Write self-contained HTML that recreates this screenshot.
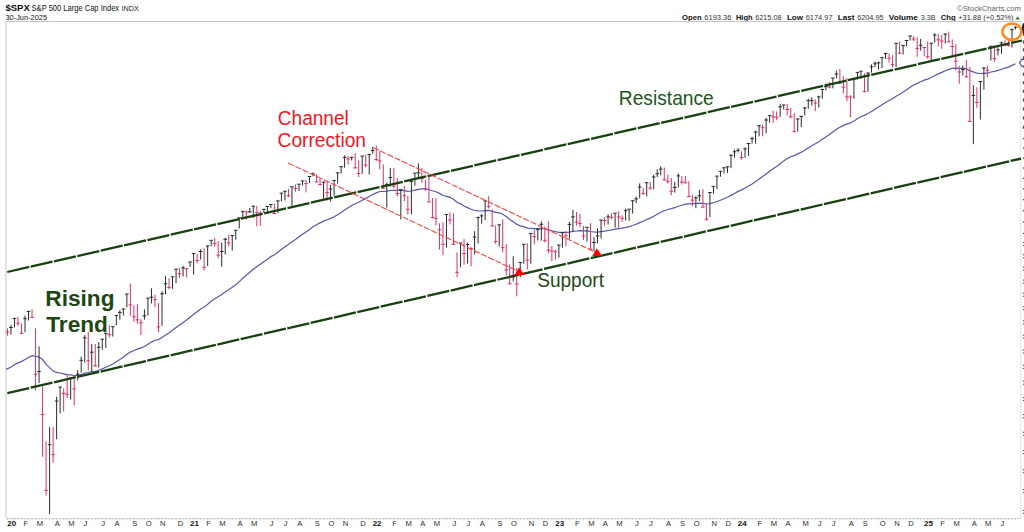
<!DOCTYPE html>
<html><head><meta charset="utf-8"><style>
html,body{margin:0;padding:0;background:#fff;width:1024px;height:532px;overflow:hidden}
svg{position:absolute;left:0;top:0}
text{font-family:"Liberation Sans",sans-serif}
</style></head><body>
<svg width="1024" height="532" viewBox="0 0 1024 532">
<rect x="0" y="0" width="1024" height="532" fill="#fff"/>
<!-- header -->
<text x="5.5" y="11.4" font-size="9.8" font-weight="bold" fill="#0a0a0a" textLength="24.2" lengthAdjust="spacingAndGlyphs">$SPX</text>
<text x="31.6" y="11.2" font-size="8.2" fill="#111" textLength="87.5" lengthAdjust="spacingAndGlyphs">S&amp;P 500 Large Cap Index</text>
<text x="121.6" y="11.2" font-size="7.2" fill="#222" textLength="17.2" lengthAdjust="spacingAndGlyphs">INDX</text>
<text x="5.5" y="19.8" font-size="7.5" fill="#111" textLength="41.5" lengthAdjust="spacingAndGlyphs">30-Jun-2025</text>
<text x="957" y="10.8" font-size="7.7" fill="#666" textLength="64" lengthAdjust="spacingAndGlyphs">&#169;StockCharts.com</text>
<g font-size="7.7" fill="#111">
<text x="682" y="19.6" font-weight="bold" textLength="19.6" lengthAdjust="spacingAndGlyphs">Open</text>
<text x="704.3" y="19.6" fill="#333" textLength="27.2" lengthAdjust="spacingAndGlyphs">6193.36</text>
<text x="735.9" y="19.6" font-weight="bold" textLength="16.7" lengthAdjust="spacingAndGlyphs">High</text>
<text x="755.2" y="19.6" fill="#333" textLength="26.4" lengthAdjust="spacingAndGlyphs">6215.08</text>
<text x="786.9" y="19.6" font-weight="bold" textLength="16.1" lengthAdjust="spacingAndGlyphs">Low</text>
<text x="805.7" y="19.6" fill="#333" textLength="26.9" lengthAdjust="spacingAndGlyphs">6174.97</text>
<text x="837.8" y="19.6" font-weight="bold" textLength="16.6" lengthAdjust="spacingAndGlyphs">Last</text>
<text x="857.2" y="19.6" fill="#333" textLength="26.3" lengthAdjust="spacingAndGlyphs">6204.95</text>
<text x="888.8" y="19.6" font-weight="bold" textLength="29" lengthAdjust="spacingAndGlyphs">Volume</text>
<text x="920.8" y="19.6" fill="#333" textLength="14.6" lengthAdjust="spacingAndGlyphs">3.3B</text>
<text x="940.7" y="19.6" font-weight="bold" textLength="14.9" lengthAdjust="spacingAndGlyphs">Chg</text>
<text x="958.2" y="19.6" fill="#333" textLength="55.4" lengthAdjust="spacingAndGlyphs">+31.88 (+0.52%)</text>
</g>
<path d="M1015.3 19.6l2.3-3l2.3 3z" fill="#2a7a2a"/>
<!-- frame -->
<path d="M6 21.5H1021" stroke="#c4c4c4" stroke-width="1"/>
<path d="M6 21.5V518.5" stroke="#dadada" stroke-width="1.5"/>
<path d="M6 518.5H1021" stroke="#d8d8d8" stroke-width="1"/>
<path d="M1020.7 21.5V518.5" stroke="#d8d8d8" stroke-width="1" stroke-dasharray="2 1"/>
<path d="M7.5 518.5v1.5M11.0 518.5v1.5M14.5 518.5v1.5M18.0 518.5v1.5M21.5 518.5v1.5M25.0 518.5v1.5M28.5 518.5v1.5M32.0 518.5v1.5M35.5 518.5v1.5M39.1 518.5v1.5M42.6 518.5v1.5M46.1 518.5v1.5M49.6 518.5v1.5M53.1 518.5v1.5M56.6 518.5v1.5M60.1 518.5v1.5M63.6 518.5v1.5M67.2 518.5v1.5M70.7 518.5v1.5M74.2 518.5v1.5M77.7 518.5v1.5M81.2 518.5v1.5M84.7 518.5v1.5M88.2 518.5v1.5M91.7 518.5v1.5M95.3 518.5v1.5M98.8 518.5v1.5M102.3 518.5v1.5M105.8 518.5v1.5M109.3 518.5v1.5M112.8 518.5v1.5M116.3 518.5v1.5M119.8 518.5v1.5M123.4 518.5v1.5M126.9 518.5v1.5M130.4 518.5v1.5M133.9 518.5v1.5M137.4 518.5v1.5M140.9 518.5v1.5M144.4 518.5v1.5M147.9 518.5v1.5M151.5 518.5v1.5M155.0 518.5v1.5M158.5 518.5v1.5M162.0 518.5v1.5M165.5 518.5v1.5M169.0 518.5v1.5M172.5 518.5v1.5M176.0 518.5v1.5M179.6 518.5v1.5M183.1 518.5v1.5M186.6 518.5v1.5M190.1 518.5v1.5M193.6 518.5v1.5M197.1 518.5v1.5M200.6 518.5v1.5M204.1 518.5v1.5M207.7 518.5v1.5M211.2 518.5v1.5M214.7 518.5v1.5M218.2 518.5v1.5M221.7 518.5v1.5M225.2 518.5v1.5M228.7 518.5v1.5M232.2 518.5v1.5M235.8 518.5v1.5M239.3 518.5v1.5M242.8 518.5v1.5M246.3 518.5v1.5M249.8 518.5v1.5M253.3 518.5v1.5M256.8 518.5v1.5M260.3 518.5v1.5M263.9 518.5v1.5M267.4 518.5v1.5M270.9 518.5v1.5M274.4 518.5v1.5M277.9 518.5v1.5M281.4 518.5v1.5M284.9 518.5v1.5M288.4 518.5v1.5M292.0 518.5v1.5M295.5 518.5v1.5M299.0 518.5v1.5M302.5 518.5v1.5M306.0 518.5v1.5M309.5 518.5v1.5M313.0 518.5v1.5M316.5 518.5v1.5M320.1 518.5v1.5M323.6 518.5v1.5M327.1 518.5v1.5M330.6 518.5v1.5M334.1 518.5v1.5M337.6 518.5v1.5M341.1 518.5v1.5M344.6 518.5v1.5M348.2 518.5v1.5M351.7 518.5v1.5M355.2 518.5v1.5M358.7 518.5v1.5M362.2 518.5v1.5M365.7 518.5v1.5M369.2 518.5v1.5M372.7 518.5v1.5M376.3 518.5v1.5M379.8 518.5v1.5M383.3 518.5v1.5M386.8 518.5v1.5M390.3 518.5v1.5M393.8 518.5v1.5M397.3 518.5v1.5M400.8 518.5v1.5M404.4 518.5v1.5M407.9 518.5v1.5M411.4 518.5v1.5M414.9 518.5v1.5M418.4 518.5v1.5M421.9 518.5v1.5M425.4 518.5v1.5M428.9 518.5v1.5M432.5 518.5v1.5M436.0 518.5v1.5M439.5 518.5v1.5M443.0 518.5v1.5M446.5 518.5v1.5M450.0 518.5v1.5M453.5 518.5v1.5M457.0 518.5v1.5M460.5 518.5v1.5M464.1 518.5v1.5M467.6 518.5v1.5M471.1 518.5v1.5M474.6 518.5v1.5M478.1 518.5v1.5M481.6 518.5v1.5M485.1 518.5v1.5M488.6 518.5v1.5M492.2 518.5v1.5M495.7 518.5v1.5M499.2 518.5v1.5M502.7 518.5v1.5M506.2 518.5v1.5M509.7 518.5v1.5M513.2 518.5v1.5M516.7 518.5v1.5M520.3 518.5v1.5M523.8 518.5v1.5M527.3 518.5v1.5M530.8 518.5v1.5M534.3 518.5v1.5M537.8 518.5v1.5M541.3 518.5v1.5M544.8 518.5v1.5M548.4 518.5v1.5M551.9 518.5v1.5M555.4 518.5v1.5M558.9 518.5v1.5M562.4 518.5v1.5M565.9 518.5v1.5M569.4 518.5v1.5M572.9 518.5v1.5M576.5 518.5v1.5M580.0 518.5v1.5M583.5 518.5v1.5M587.0 518.5v1.5M590.5 518.5v1.5M594.0 518.5v1.5M597.5 518.5v1.5M601.0 518.5v1.5M604.6 518.5v1.5M608.1 518.5v1.5M611.6 518.5v1.5M615.1 518.5v1.5M618.6 518.5v1.5M622.1 518.5v1.5M625.6 518.5v1.5M629.1 518.5v1.5M632.7 518.5v1.5M636.2 518.5v1.5M639.7 518.5v1.5M643.2 518.5v1.5M646.7 518.5v1.5M650.2 518.5v1.5M653.7 518.5v1.5M657.2 518.5v1.5M660.8 518.5v1.5M664.3 518.5v1.5M667.8 518.5v1.5M671.3 518.5v1.5M674.8 518.5v1.5M678.3 518.5v1.5M681.8 518.5v1.5M685.3 518.5v1.5M688.9 518.5v1.5M692.4 518.5v1.5M695.9 518.5v1.5M699.4 518.5v1.5M702.9 518.5v1.5M706.4 518.5v1.5M709.9 518.5v1.5M713.4 518.5v1.5M717.0 518.5v1.5M720.5 518.5v1.5M724.0 518.5v1.5M727.5 518.5v1.5M731.0 518.5v1.5M734.5 518.5v1.5M738.0 518.5v1.5M741.5 518.5v1.5M745.1 518.5v1.5M748.6 518.5v1.5M752.1 518.5v1.5M755.6 518.5v1.5M759.1 518.5v1.5M762.6 518.5v1.5M766.1 518.5v1.5M769.6 518.5v1.5M773.2 518.5v1.5M776.7 518.5v1.5M780.2 518.5v1.5M783.7 518.5v1.5M787.2 518.5v1.5M790.7 518.5v1.5M794.2 518.5v1.5M797.7 518.5v1.5M801.3 518.5v1.5M804.8 518.5v1.5M808.3 518.5v1.5M811.8 518.5v1.5M815.3 518.5v1.5M818.8 518.5v1.5M822.3 518.5v1.5M825.8 518.5v1.5M829.4 518.5v1.5M832.9 518.5v1.5M836.4 518.5v1.5M839.9 518.5v1.5M843.4 518.5v1.5M846.9 518.5v1.5M850.4 518.5v1.5M853.9 518.5v1.5M857.5 518.5v1.5M861.0 518.5v1.5M864.5 518.5v1.5M868.0 518.5v1.5M871.5 518.5v1.5M875.0 518.5v1.5M878.5 518.5v1.5M882.0 518.5v1.5M885.6 518.5v1.5M889.1 518.5v1.5M892.6 518.5v1.5M896.1 518.5v1.5M899.6 518.5v1.5M903.1 518.5v1.5M906.6 518.5v1.5M910.1 518.5v1.5M913.6 518.5v1.5M917.2 518.5v1.5M920.7 518.5v1.5M924.2 518.5v1.5M927.7 518.5v1.5M931.2 518.5v1.5M934.7 518.5v1.5M938.2 518.5v1.5M941.7 518.5v1.5M945.3 518.5v1.5M948.8 518.5v1.5M952.3 518.5v1.5M955.8 518.5v1.5M959.3 518.5v1.5M962.8 518.5v1.5M966.3 518.5v1.5M969.8 518.5v1.5M973.4 518.5v1.5M976.9 518.5v1.5M980.4 518.5v1.5M983.9 518.5v1.5M987.4 518.5v1.5M990.9 518.5v1.5M994.4 518.5v1.5M997.9 518.5v1.5M1001.5 518.5v1.5M1005.0 518.5v1.5M1008.5 518.5v1.5M1012.0 518.5v1.5M1015.5 518.5v1.5" stroke="#bbb" stroke-width="0.8"/>
<text x="11.8" y="526.2" text-anchor="middle" font-weight="bold" font-size="8" fill="#111">20</text>
<text x="25.8" y="526.2" text-anchor="middle" font-size="7.6" fill="#2a2a2a">F</text>
<text x="39.9" y="526.2" text-anchor="middle" font-size="7.6" fill="#2a2a2a">M</text>
<text x="57.4" y="526.2" text-anchor="middle" font-size="7.6" fill="#2a2a2a">A</text>
<text x="71.5" y="526.2" text-anchor="middle" font-size="7.6" fill="#2a2a2a">M</text>
<text x="85.5" y="526.2" text-anchor="middle" font-size="7.6" fill="#2a2a2a">J</text>
<text x="103.1" y="526.2" text-anchor="middle" font-size="7.6" fill="#2a2a2a">J</text>
<text x="117.1" y="526.2" text-anchor="middle" font-size="7.6" fill="#2a2a2a">A</text>
<text x="134.7" y="526.2" text-anchor="middle" font-size="7.6" fill="#2a2a2a">S</text>
<text x="148.7" y="526.2" text-anchor="middle" font-size="7.6" fill="#2a2a2a">O</text>
<text x="162.8" y="526.2" text-anchor="middle" font-size="7.6" fill="#2a2a2a">N</text>
<text x="180.4" y="526.2" text-anchor="middle" font-size="7.6" fill="#2a2a2a">D</text>
<text x="194.4" y="526.2" text-anchor="middle" font-weight="bold" font-size="8" fill="#111">21</text>
<text x="208.5" y="526.2" text-anchor="middle" font-size="7.6" fill="#2a2a2a">F</text>
<text x="222.5" y="526.2" text-anchor="middle" font-size="7.6" fill="#2a2a2a">M</text>
<text x="240.1" y="526.2" text-anchor="middle" font-size="7.6" fill="#2a2a2a">A</text>
<text x="254.1" y="526.2" text-anchor="middle" font-size="7.6" fill="#2a2a2a">M</text>
<text x="271.7" y="526.2" text-anchor="middle" font-size="7.6" fill="#2a2a2a">J</text>
<text x="285.7" y="526.2" text-anchor="middle" font-size="7.6" fill="#2a2a2a">J</text>
<text x="299.8" y="526.2" text-anchor="middle" font-size="7.6" fill="#2a2a2a">A</text>
<text x="317.3" y="526.2" text-anchor="middle" font-size="7.6" fill="#2a2a2a">S</text>
<text x="331.4" y="526.2" text-anchor="middle" font-size="7.6" fill="#2a2a2a">O</text>
<text x="345.4" y="526.2" text-anchor="middle" font-size="7.6" fill="#2a2a2a">N</text>
<text x="363.0" y="526.2" text-anchor="middle" font-size="7.6" fill="#2a2a2a">D</text>
<text x="377.1" y="526.2" text-anchor="middle" font-weight="bold" font-size="8" fill="#111">22</text>
<text x="394.6" y="526.2" text-anchor="middle" font-size="7.6" fill="#2a2a2a">F</text>
<text x="408.7" y="526.2" text-anchor="middle" font-size="7.6" fill="#2a2a2a">M</text>
<text x="422.7" y="526.2" text-anchor="middle" font-size="7.6" fill="#2a2a2a">A</text>
<text x="436.8" y="526.2" text-anchor="middle" font-size="7.6" fill="#2a2a2a">M</text>
<text x="454.3" y="526.2" text-anchor="middle" font-size="7.6" fill="#2a2a2a">J</text>
<text x="468.4" y="526.2" text-anchor="middle" font-size="7.6" fill="#2a2a2a">J</text>
<text x="482.4" y="526.2" text-anchor="middle" font-size="7.6" fill="#2a2a2a">A</text>
<text x="500.0" y="526.2" text-anchor="middle" font-size="7.6" fill="#2a2a2a">S</text>
<text x="514.0" y="526.2" text-anchor="middle" font-size="7.6" fill="#2a2a2a">O</text>
<text x="531.6" y="526.2" text-anchor="middle" font-size="7.6" fill="#2a2a2a">N</text>
<text x="545.6" y="526.2" text-anchor="middle" font-size="7.6" fill="#2a2a2a">D</text>
<text x="559.7" y="526.2" text-anchor="middle" font-weight="bold" font-size="8" fill="#111">23</text>
<text x="577.3" y="526.2" text-anchor="middle" font-size="7.6" fill="#2a2a2a">F</text>
<text x="591.3" y="526.2" text-anchor="middle" font-size="7.6" fill="#2a2a2a">M</text>
<text x="605.4" y="526.2" text-anchor="middle" font-size="7.6" fill="#2a2a2a">A</text>
<text x="619.4" y="526.2" text-anchor="middle" font-size="7.6" fill="#2a2a2a">M</text>
<text x="637.0" y="526.2" text-anchor="middle" font-size="7.6" fill="#2a2a2a">J</text>
<text x="651.0" y="526.2" text-anchor="middle" font-size="7.6" fill="#2a2a2a">J</text>
<text x="668.6" y="526.2" text-anchor="middle" font-size="7.6" fill="#2a2a2a">A</text>
<text x="682.6" y="526.2" text-anchor="middle" font-size="7.6" fill="#2a2a2a">S</text>
<text x="696.7" y="526.2" text-anchor="middle" font-size="7.6" fill="#2a2a2a">O</text>
<text x="714.2" y="526.2" text-anchor="middle" font-size="7.6" fill="#2a2a2a">N</text>
<text x="728.3" y="526.2" text-anchor="middle" font-size="7.6" fill="#2a2a2a">D</text>
<text x="742.3" y="526.2" text-anchor="middle" font-weight="bold" font-size="8" fill="#111">24</text>
<text x="759.9" y="526.2" text-anchor="middle" font-size="7.6" fill="#2a2a2a">F</text>
<text x="774.0" y="526.2" text-anchor="middle" font-size="7.6" fill="#2a2a2a">M</text>
<text x="788.0" y="526.2" text-anchor="middle" font-size="7.6" fill="#2a2a2a">A</text>
<text x="805.6" y="526.2" text-anchor="middle" font-size="7.6" fill="#2a2a2a">M</text>
<text x="819.6" y="526.2" text-anchor="middle" font-size="7.6" fill="#2a2a2a">J</text>
<text x="833.7" y="526.2" text-anchor="middle" font-size="7.6" fill="#2a2a2a">J</text>
<text x="851.2" y="526.2" text-anchor="middle" font-size="7.6" fill="#2a2a2a">A</text>
<text x="865.3" y="526.2" text-anchor="middle" font-size="7.6" fill="#2a2a2a">S</text>
<text x="882.8" y="526.2" text-anchor="middle" font-size="7.6" fill="#2a2a2a">O</text>
<text x="896.9" y="526.2" text-anchor="middle" font-size="7.6" fill="#2a2a2a">N</text>
<text x="910.9" y="526.2" text-anchor="middle" font-size="7.6" fill="#2a2a2a">D</text>
<text x="928.5" y="526.2" text-anchor="middle" font-weight="bold" font-size="8" fill="#111">25</text>
<text x="942.5" y="526.2" text-anchor="middle" font-size="7.6" fill="#2a2a2a">F</text>
<text x="956.6" y="526.2" text-anchor="middle" font-size="7.6" fill="#2a2a2a">M</text>
<text x="974.2" y="526.2" text-anchor="middle" font-size="7.6" fill="#2a2a2a">A</text>
<text x="988.2" y="526.2" text-anchor="middle" font-size="7.6" fill="#2a2a2a">M</text>
<text x="1002.3" y="526.2" text-anchor="middle" font-size="7.6" fill="#2a2a2a">J</text>
<rect x="1022.8" y="509.8" width="1.3" height="1.2" fill="#666"/><rect x="1022.8" y="512.8" width="1.3" height="1.2" fill="#666"/>
<rect x="1022.8" y="489.0" width="1.3" height="1.2" fill="#666"/><rect x="1022.8" y="492.0" width="1.3" height="1.2" fill="#666"/>
<rect x="1022.8" y="469.1" width="1.3" height="1.2" fill="#666"/><rect x="1022.8" y="472.1" width="1.3" height="1.2" fill="#666"/>
<rect x="1022.8" y="450.0" width="1.3" height="1.2" fill="#666"/><rect x="1022.8" y="453.0" width="1.3" height="1.2" fill="#666"/>
<rect x="1022.8" y="431.7" width="1.3" height="1.2" fill="#666"/><rect x="1022.8" y="434.7" width="1.3" height="1.2" fill="#666"/>
<rect x="1022.8" y="414.0" width="1.3" height="1.2" fill="#666"/><rect x="1022.8" y="417.0" width="1.3" height="1.2" fill="#666"/>
<rect x="1022.8" y="397.0" width="1.3" height="1.2" fill="#666"/><rect x="1022.8" y="400.0" width="1.3" height="1.2" fill="#666"/>
<rect x="1022.8" y="380.6" width="1.3" height="1.2" fill="#666"/><rect x="1022.8" y="383.6" width="1.3" height="1.2" fill="#666"/>
<rect x="1022.8" y="364.8" width="1.3" height="1.2" fill="#666"/><rect x="1022.8" y="367.8" width="1.3" height="1.2" fill="#666"/>
<rect x="1022.8" y="349.4" width="1.3" height="1.2" fill="#666"/><rect x="1022.8" y="352.4" width="1.3" height="1.2" fill="#666"/>
<rect x="1022.8" y="334.6" width="1.3" height="1.2" fill="#666"/><rect x="1022.8" y="337.6" width="1.3" height="1.2" fill="#666"/>
<rect x="1022.8" y="320.2" width="1.3" height="1.2" fill="#666"/><rect x="1022.8" y="323.2" width="1.3" height="1.2" fill="#666"/>
<rect x="1022.8" y="306.2" width="1.3" height="1.2" fill="#666"/><rect x="1022.8" y="309.2" width="1.3" height="1.2" fill="#666"/>
<rect x="1022.8" y="292.7" width="1.3" height="1.2" fill="#666"/><rect x="1022.8" y="295.7" width="1.3" height="1.2" fill="#666"/>
<rect x="1022.8" y="279.5" width="1.3" height="1.2" fill="#666"/><rect x="1022.8" y="282.5" width="1.3" height="1.2" fill="#666"/>
<rect x="1022.8" y="266.7" width="1.3" height="1.2" fill="#666"/><rect x="1022.8" y="269.7" width="1.3" height="1.2" fill="#666"/>
<rect x="1022.8" y="254.2" width="1.3" height="1.2" fill="#666"/><rect x="1022.8" y="257.2" width="1.3" height="1.2" fill="#666"/>
<rect x="1022.8" y="242.0" width="1.3" height="1.2" fill="#666"/><rect x="1022.8" y="245.0" width="1.3" height="1.2" fill="#666"/>
<rect x="1022.8" y="232.8" width="1.3" height="1.3" fill="#555"/>
<rect x="1022.8" y="221.3" width="1.3" height="1.3" fill="#555"/>
<rect x="1022.8" y="210.0" width="1.3" height="1.3" fill="#555"/>
<rect x="1022.8" y="199.0" width="1.3" height="1.3" fill="#555"/>
<rect x="1022.8" y="188.2" width="1.3" height="1.3" fill="#555"/>
<rect x="1022.8" y="177.7" width="1.3" height="1.3" fill="#555"/>
<rect x="1022.8" y="167.4" width="1.3" height="1.3" fill="#555"/>
<rect x="1022.8" y="157.4" width="1.3" height="1.3" fill="#555"/>
<rect x="1022.8" y="147.5" width="1.3" height="1.3" fill="#555"/>
<rect x="1022.8" y="137.9" width="1.3" height="1.3" fill="#555"/>
<rect x="1022.8" y="125.6" width="1.2" height="3.2" fill="#555"/>
<rect x="1022.8" y="116.4" width="1.2" height="3.2" fill="#555"/>
<rect x="1022.8" y="107.3" width="1.2" height="3.2" fill="#555"/>
<rect x="1022.8" y="98.4" width="1.2" height="3.2" fill="#555"/>
<rect x="1022.8" y="89.6" width="1.2" height="3.2" fill="#555"/>
<rect x="1022.8" y="81.1" width="1.2" height="3.2" fill="#555"/>
<rect x="1022.8" y="72.6" width="1.2" height="3.2" fill="#555"/>
<rect x="1022.8" y="64.4" width="1.2" height="3.2" fill="#555"/>
<rect x="1022.8" y="56.2" width="1.2" height="3.2" fill="#555"/>
<rect x="1022.8" y="48.2" width="1.2" height="3.2" fill="#555"/>
<rect x="1022.8" y="40.4" width="1.2" height="3.2" fill="#555"/>
<rect x="1022.8" y="32.6" width="1.2" height="3.2" fill="#555"/>
<rect x="1022.8" y="25.0" width="1.2" height="3.2" fill="#555"/>
<!-- MA -->
<polyline points="6,368.9 7.45,368.9 10.96,367.0 14.47,364.8 17.99,362.9 21.50,361.6 25.01,359.6 28.52,357.4 32.04,355.6 35.55,356.4 39.06,357.0 42.57,359.4 46.09,364.4 49.60,367.6 53.11,371.1 56.62,372.4 60.14,373.0 63.65,373.8 67.16,374.7 70.67,374.9 74.19,375.5 77.70,375.4 81.21,374.7 84.72,373.1 88.24,372.5 91.75,371.6 95.26,371.4 98.77,370.3 102.28,368.9 105.80,367.3 109.31,365.8 112.82,364.1 116.33,361.8 119.85,359.6 123.36,357.3 126.87,354.3 130.38,352.1 133.90,350.5 137.41,349.1 140.92,347.9 144.43,346.5 147.95,344.3 151.46,342.1 154.97,340.2 158.48,339.6 162.00,337.5 165.51,335.1 169.02,332.9 172.53,330.3 176.05,327.5 179.56,325.0 183.07,322.4 186.58,319.9 190.09,317.2 193.61,314.3 197.12,311.8 200.63,309.0 204.14,307.1 207.66,304.3 211.17,301.3 214.68,298.7 218.19,296.7 221.71,294.6 225.22,292.1 228.73,289.8 232.24,287.3 235.76,284.7 239.27,281.6 242.78,278.3 246.29,275.2 249.81,272.3 253.32,269.2 256.83,266.6 260.34,264.2 263.86,261.7 267.37,259.2 270.88,256.6 274.39,254.7 277.90,252.2 281.42,249.5 284.93,246.8 288.44,244.5 291.95,241.8 295.47,239.4 298.98,236.8 302.49,234.2 306.00,231.9 309.52,229.4 313.03,226.8 316.54,224.8 320.05,222.9 323.57,221.1 327.08,219.8 330.59,218.4 334.10,216.7 337.62,214.7 341.13,212.5 344.64,210.0 348.15,207.7 351.67,205.4 355.18,203.7 358.69,202.3 362.20,200.2 365.71,198.6 369.23,196.6 372.74,194.5 376.25,192.9 379.76,191.5 383.28,191.4 386.79,191.1 390.30,190.5 393.81,190.3 397.33,190.4 400.84,190.4 404.35,190.6 407.86,191.4 411.38,191.0 414.89,190.2 418.40,189.4 421.91,188.9 425.43,188.9 428.94,189.5 432.45,190.7 435.96,191.8 439.48,193.4 442.99,195.5 446.50,196.3 450.01,197.3 453.52,199.3 457.04,202.2 460.55,203.9 464.06,206.0 467.57,207.6 471.09,209.3 474.60,210.5 478.11,210.8 481.62,211.0 485.14,210.6 488.65,210.4 492.16,211.1 495.67,212.4 499.19,212.9 502.70,214.3 506.21,216.6 509.72,219.4 513.24,221.7 516.75,224.3 520.26,225.9 523.77,226.6 527.29,228.1 530.80,228.3 534.31,228.7 537.82,228.7 541.33,228.5 544.85,229.0 548.36,229.9 551.87,230.8 555.38,231.7 558.90,232.3 562.41,232.3 565.92,232.4 569.43,232.1 572.95,231.4 576.46,231.0 579.97,230.7 583.48,230.9 587.00,230.8 590.51,231.5 594.02,232.0 597.53,232.2 601.05,231.7 604.56,231.2 608.07,230.5 611.58,229.9 615.10,229.2 618.61,228.7 622.12,228.2 625.63,227.4 629.14,226.6 632.66,225.5 636.17,224.3 639.68,222.6 643.19,221.3 646.71,219.5 650.22,218.1 653.73,216.3 657.24,214.3 660.76,212.3 664.27,210.8 667.78,209.5 671.29,208.7 674.81,207.7 678.32,206.3 681.83,205.2 685.34,204.2 688.86,203.9 692.37,203.7 695.88,203.5 699.39,203.1 702.91,203.3 706.42,204.0 709.93,203.5 713.44,202.7 716.95,201.5 720.47,200.2 723.98,198.7 727.49,197.3 731.00,195.4 734.52,193.4 738.03,191.4 741.54,189.9 745.05,188.0 748.57,186.0 752.08,183.9 755.59,181.5 759.10,178.9 762.62,176.6 766.13,174.0 769.64,171.3 773.15,168.8 776.67,166.4 780.18,163.7 783.69,160.9 787.20,158.6 790.72,156.7 794.23,155.6 797.74,153.9 801.25,152.2 804.76,150.2 808.28,147.9 811.79,145.8 815.30,143.8 818.81,141.7 822.33,139.3 825.84,136.9 829.35,134.6 832.86,132.0 836.38,129.3 839.89,127.2 843.40,125.4 846.91,124.1 850.43,122.9 853.94,120.9 857.45,118.7 860.96,116.5 864.48,115.4 867.99,113.5 871.50,111.4 875.01,109.2 878.53,107.1 882.04,104.8 885.55,102.5 889.06,100.5 892.57,98.8 896.09,96.3 899.60,94.3 903.11,92.1 906.62,89.7 910.14,87.2 913.65,85.0 917.16,83.4 920.67,81.7 924.19,80.1 927.70,79.1 931.21,77.5 934.72,75.5 938.24,73.9 941.75,72.4 945.26,70.7 948.77,69.4 952.29,68.4 955.80,68.1 959.31,68.3 962.82,68.3 966.34,68.7 969.85,70.9 973.36,71.9 976.87,73.2 980.38,73.5 983.90,73.3 987.41,73.2 990.92,72.0 994.43,71.4 997.95,70.4 1001.46,69.2 1004.97,68.1 1008.48,67.1 1012.00,65.4 1015.51,63.7" fill="none" stroke="#5558b0" stroke-width="1.2"/>
<!-- bars -->
<g stroke-width="1" fill="none">
<path d="M7.45 328.3V335.7M5.65 331.9H9.25" stroke="#e0306a"/>
<path d="M10.96 325.2V334.7M9.16 327.5H12.76" stroke="#2b2b2b"/>
<path d="M14.47 318.0V327.4M12.67 318.4H16.27" stroke="#2b2b2b"/>
<path d="M17.99 317.1V325.9M16.19 323.2H19.79" stroke="#e0306a"/>
<path d="M21.50 323.5V334.2M19.70 333.3H23.30" stroke="#e0306a"/>
<path d="M25.01 315.6V332.3M23.21 318.7H26.81" stroke="#2b2b2b"/>
<path d="M28.52 310.8V320.5M26.72 311.4H30.32" stroke="#2b2b2b"/>
<path d="M32.04 309.3V318.1M30.24 317.3H33.84" stroke="#e0306a"/>
<path d="M35.55 328.3V390.5M33.75 374.3H37.35" stroke="#e0306a"/>
<path d="M39.06 346.4V383.0M37.26 371.5H40.86" stroke="#2b2b2b"/>
<path d="M42.57 386.4V456.7M40.77 414.5H44.37" stroke="#e0306a"/>
<path d="M46.09 441.5V495.5M44.29 490.4H47.89" stroke="#e0306a"/>
<path d="M49.60 427.2V514.0M47.80 444.7H51.40" stroke="#2b2b2b"/>
<path d="M53.11 427.0V462.7M51.31 454.6H54.91" stroke="#e0306a"/>
<path d="M56.62 396.7V439.2M54.82 401.1H58.42" stroke="#2b2b2b"/>
<path d="M60.14 386.7V413.3M58.34 387.1H61.94" stroke="#2b2b2b"/>
<path d="M63.65 388.3V411.6M61.85 393.3H65.45" stroke="#e0306a"/>
<path d="M67.16 374.5V398.0M65.36 394.3H68.96" stroke="#e0306a"/>
<path d="M70.67 378.1V399.6M68.87 378.2H72.47" stroke="#2b2b2b"/>
<path d="M74.19 376.1V405.5M72.39 388.9H75.99" stroke="#e0306a"/>
<path d="M77.70 370.1V380.3M75.90 374.2H79.50" stroke="#2b2b2b"/>
<path d="M81.21 356.7V372.6M79.41 360.3H83.01" stroke="#2b2b2b"/>
<path d="M84.72 335.2V362.5M82.92 337.9H86.52" stroke="#2b2b2b"/>
<path d="M88.24 331.7V370.5M86.44 360.8H90.04" stroke="#e0306a"/>
<path d="M91.75 344.0V371.6M89.95 352.2H93.55" stroke="#2b2b2b"/>
<path d="M95.26 344.0V366.7M93.46 365.7H97.06" stroke="#e0306a"/>
<path d="M98.77 342.0V367.3M96.97 347.3H100.57" stroke="#2b2b2b"/>
<path d="M102.28 339.1V349.8M100.48 339.2H104.08" stroke="#2b2b2b"/>
<path d="M105.80 332.7V347.9M104.00 333.4H107.60" stroke="#2b2b2b"/>
<path d="M109.31 325.4V337.6M107.51 334.7H111.11" stroke="#e0306a"/>
<path d="M112.82 326.7V336.6M111.02 326.7H114.62" stroke="#2b2b2b"/>
<path d="M116.33 315.2V325.4M114.53 315.4H118.13" stroke="#2b2b2b"/>
<path d="M119.85 310.4V319.6M118.05 312.4H121.65" stroke="#2b2b2b"/>
<path d="M123.36 309.0V315.5M121.56 309.0H125.16" stroke="#2b2b2b"/>
<path d="M126.87 294.0V307.0M125.07 294.0H128.67" stroke="#2b2b2b"/>
<path d="M130.38 283.5V315.8M128.58 304.9H132.18" stroke="#e0306a"/>
<path d="M133.90 305.3V321.7M132.10 316.8H135.70" stroke="#e0306a"/>
<path d="M137.41 304.2V323.7M135.61 319.8H139.21" stroke="#e0306a"/>
<path d="M140.92 319.3V335.0M139.12 322.8H142.72" stroke="#e0306a"/>
<path d="M144.43 309.4V319.6M142.63 315.8H146.23" stroke="#2b2b2b"/>
<path d="M147.95 298.1V315.5M146.15 298.1H149.75" stroke="#2b2b2b"/>
<path d="M151.46 288.3V303.5M149.66 297.2H153.26" stroke="#2b2b2b"/>
<path d="M154.97 294.7V307.0M153.17 299.7H156.77" stroke="#e0306a"/>
<path d="M158.48 303.2V332.0M156.68 326.9H160.28" stroke="#e0306a"/>
<path d="M162.00 291.3V325.8M160.20 293.8H163.80" stroke="#2b2b2b"/>
<path d="M165.51 276.1V294.2M163.71 283.8H167.31" stroke="#2b2b2b"/>
<path d="M169.02 278.1V289.3M167.22 287.4H170.82" stroke="#e0306a"/>
<path d="M172.53 276.6V288.8M170.73 276.9H174.33" stroke="#2b2b2b"/>
<path d="M176.05 269.2V283.0M174.25 269.2H177.85" stroke="#2b2b2b"/>
<path d="M179.56 267.8V278.1M177.76 273.7H181.36" stroke="#e0306a"/>
<path d="M183.07 265.9V276.6M181.27 267.9H184.87" stroke="#2b2b2b"/>
<path d="M186.58 268.3V277.6M184.78 268.7H188.38" stroke="#e0306a"/>
<path d="M190.09 261.8V266.8M188.29 262.0H191.89" stroke="#2b2b2b"/>
<path d="M193.61 253.6V274.6M191.81 253.6H195.41" stroke="#2b2b2b"/>
<path d="M197.12 253.7V263.3M195.32 260.5H198.92" stroke="#e0306a"/>
<path d="M200.63 249.3V259.6M198.83 251.5H202.43" stroke="#2b2b2b"/>
<path d="M204.14 248.2V270.5M202.34 267.3H205.94" stroke="#e0306a"/>
<path d="M207.66 245.5V266.1M205.86 246.0H209.46" stroke="#2b2b2b"/>
<path d="M211.17 240.3V246.2M209.37 240.3H212.97" stroke="#2b2b2b"/>
<path d="M214.68 238.0V246.5M212.88 243.6H216.48" stroke="#e0306a"/>
<path d="M218.19 241.1V258.3M216.39 255.2H219.99" stroke="#e0306a"/>
<path d="M221.71 242.4V266.7M219.91 251.5H223.51" stroke="#2b2b2b"/>
<path d="M225.22 237.6V254.4M223.42 239.3H227.02" stroke="#2b2b2b"/>
<path d="M228.73 234.6V246.5M226.93 242.9H230.53" stroke="#e0306a"/>
<path d="M232.24 235.3V250.6M230.44 235.6H234.04" stroke="#2b2b2b"/>
<path d="M235.76 230.3V239.7M233.96 230.3H237.56" stroke="#2b2b2b"/>
<path d="M239.27 217.8V228.5M237.47 217.8H241.07" stroke="#2b2b2b"/>
<path d="M242.78 211.4V217.6M240.98 211.4H244.58" stroke="#2b2b2b"/>
<path d="M246.29 210.7V219.6M244.49 212.0H248.09" stroke="#e0306a"/>
<path d="M249.81 208.0V212.8M248.01 211.9H251.61" stroke="#2b2b2b"/>
<path d="M253.32 205.9V217.9M251.52 206.2H255.12" stroke="#2b2b2b"/>
<path d="M256.83 205.9V226.4M255.03 212.7H258.63" stroke="#e0306a"/>
<path d="M260.34 211.1V225.8M258.54 214.7H262.14" stroke="#e0306a"/>
<path d="M263.86 209.0V213.1M262.06 209.3H265.66" stroke="#2b2b2b"/>
<path d="M267.37 206.3V212.1M265.57 206.5H269.17" stroke="#2b2b2b"/>
<path d="M270.88 204.2V208.3M269.08 204.5H272.68" stroke="#2b2b2b"/>
<path d="M274.39 203.5V213.8M272.59 213.5H276.19" stroke="#e0306a"/>
<path d="M277.90 200.8V213.1M276.10 200.9H279.70" stroke="#2b2b2b"/>
<path d="M281.42 193.1V201.5M279.62 193.1H283.22" stroke="#2b2b2b"/>
<path d="M284.93 191.3V200.5M283.13 191.3H286.73" stroke="#2b2b2b"/>
<path d="M288.44 188.9V197.1M286.64 195.8H290.24" stroke="#e0306a"/>
<path d="M291.95 186.8V205.9M290.15 186.8H293.75" stroke="#2b2b2b"/>
<path d="M295.47 184.5V191.7M293.67 188.5H297.27" stroke="#e0306a"/>
<path d="M298.98 184.1V191.0M297.18 184.2H300.78" stroke="#2b2b2b"/>
<path d="M302.49 180.9V185.5M300.69 180.9H304.29" stroke="#2b2b2b"/>
<path d="M306.00 179.7V192.3M304.20 183.6H307.80" stroke="#e0306a"/>
<path d="M309.52 176.5V182.8M307.72 176.5H311.32" stroke="#2b2b2b"/>
<path d="M313.03 172.5V176.3M311.23 173.9H314.83" stroke="#2b2b2b"/>
<path d="M316.54 174.2V182.4M314.74 181.8H318.34" stroke="#e0306a"/>
<path d="M320.05 178.3V185.5M318.25 184.5H321.85" stroke="#e0306a"/>
<path d="M323.57 181.7V198.8M321.77 182.2H325.37" stroke="#2b2b2b"/>
<path d="M327.08 181.4V200.5M325.28 192.6H328.88" stroke="#e0306a"/>
<path d="M330.59 184.8V201.5M328.79 189.0H332.39" stroke="#2b2b2b"/>
<path d="M334.10 180.4V195.6M332.30 180.5H335.90" stroke="#2b2b2b"/>
<path d="M337.62 172.2V183.5M335.82 172.9H339.42" stroke="#2b2b2b"/>
<path d="M341.13 166.7V173.5M339.33 166.7H342.93" stroke="#2b2b2b"/>
<path d="M344.64 155.4V167.7M342.84 157.4H346.44" stroke="#2b2b2b"/>
<path d="M348.15 156.1V164.6M346.35 158.9H349.95" stroke="#e0306a"/>
<path d="M351.67 156.7V160.5M349.87 157.4H353.47" stroke="#2b2b2b"/>
<path d="M355.18 153.0V168.7M353.38 167.8H356.98" stroke="#e0306a"/>
<path d="M358.69 160.2V177.0M356.89 173.5H360.49" stroke="#e0306a"/>
<path d="M362.20 156.0V173.8M360.40 156.0H364.00" stroke="#2b2b2b"/>
<path d="M365.71 154.4V167.3M363.91 165.1H367.51" stroke="#e0306a"/>
<path d="M369.23 153.7V174.5M367.43 154.6H371.03" stroke="#2b2b2b"/>
<path d="M372.74 146.8V153.7M370.94 150.6H374.54" stroke="#2b2b2b"/>
<path d="M376.25 145.5V161.2M374.45 159.5H378.05" stroke="#e0306a"/>
<path d="M379.76 151.3V169.4M377.96 160.9H381.56" stroke="#e0306a"/>
<path d="M383.28 164.4V188.7M381.48 188.3H385.08" stroke="#e0306a"/>
<path d="M386.79 182.6V207.5M384.99 184.7H388.59" stroke="#2b2b2b"/>
<path d="M390.30 167.9V186.7M388.50 177.5H392.10" stroke="#2b2b2b"/>
<path d="M393.81 168.2V188.4M392.01 186.1H395.61" stroke="#e0306a"/>
<path d="M397.33 178.1V196.3M395.53 193.5H399.13" stroke="#e0306a"/>
<path d="M400.84 189.7V219.5M399.04 189.7H402.64" stroke="#2b2b2b"/>
<path d="M404.35 186.0V201.1M402.55 195.7H406.15" stroke="#e0306a"/>
<path d="M407.86 195.9V214.7M406.06 209.3H409.66" stroke="#e0306a"/>
<path d="M411.38 181.2V214.4M409.58 181.4H413.18" stroke="#2b2b2b"/>
<path d="M414.89 173.1V185.6M413.09 173.1H416.69" stroke="#2b2b2b"/>
<path d="M418.40 163.4V177.1M416.60 172.8H420.20" stroke="#2b2b2b"/>
<path d="M421.91 167.9V182.9M420.11 178.7H423.71" stroke="#e0306a"/>
<path d="M425.43 180.2V190.8M423.63 188.8H427.23" stroke="#e0306a"/>
<path d="M428.94 176.7V202.1M427.14 201.9H430.74" stroke="#e0306a"/>
<path d="M432.45 198.0V218.5M430.65 217.4H434.25" stroke="#e0306a"/>
<path d="M435.96 198.0V225.7M434.16 218.4H437.76" stroke="#e0306a"/>
<path d="M439.48 223.3V249.6M437.68 229.8H441.28" stroke="#e0306a"/>
<path d="M442.99 222.3V255.4M441.19 244.3H444.79" stroke="#e0306a"/>
<path d="M446.50 214.4V247.5M444.70 214.5H448.30" stroke="#2b2b2b"/>
<path d="M450.01 212.4V224.4M448.21 220.1H451.81" stroke="#e0306a"/>
<path d="M453.52 213.4V244.8M451.72 244.3H455.32" stroke="#e0306a"/>
<path d="M457.04 252.3V277.2M455.24 272.3H458.84" stroke="#e0306a"/>
<path d="M460.55 243.0V267.3M458.75 243.0H462.35" stroke="#2b2b2b"/>
<path d="M464.06 239.0V264.6M462.26 253.5H465.86" stroke="#e0306a"/>
<path d="M467.57 242.7V263.6M465.77 244.5H469.37" stroke="#2b2b2b"/>
<path d="M471.09 246.8V266.3M469.29 248.9H472.89" stroke="#e0306a"/>
<path d="M474.60 231.2V254.4M472.80 237.1H476.40" stroke="#2b2b2b"/>
<path d="M478.11 216.5V243.5M476.31 217.6H479.91" stroke="#2b2b2b"/>
<path d="M481.62 214.1V223.7M479.82 215.9H483.42" stroke="#2b2b2b"/>
<path d="M485.14 200.9V220.1M483.34 200.9H486.94" stroke="#2b2b2b"/>
<path d="M488.65 196.2V208.5M486.85 206.6H490.45" stroke="#e0306a"/>
<path d="M492.16 209.5V226.6M490.36 225.9H493.96" stroke="#e0306a"/>
<path d="M495.67 225.5V243.9M493.87 241.5H497.47" stroke="#e0306a"/>
<path d="M499.19 224.4V246.3M497.39 224.8H500.99" stroke="#2b2b2b"/>
<path d="M502.70 219.4V252.4M500.90 247.7H504.50" stroke="#e0306a"/>
<path d="M506.21 243.9V275.6M504.41 269.9H508.01" stroke="#e0306a"/>
<path d="M509.72 264.4V284.2M507.92 283.8H511.52" stroke="#e0306a"/>
<path d="M513.24 256.2V281.4M511.44 276.8H515.04" stroke="#2b2b2b"/>
<path d="M516.75 268.1V296.3M514.95 284.1H518.55" stroke="#e0306a"/>
<path d="M520.26 262.0V277.3M518.46 262.4H522.06" stroke="#2b2b2b"/>
<path d="M523.77 244.3V263.7M521.97 244.3H525.57" stroke="#2b2b2b"/>
<path d="M527.29 243.2V269.5M525.49 260.2H529.09" stroke="#e0306a"/>
<path d="M530.80 233.3V263.7M529.00 233.4H532.60" stroke="#2b2b2b"/>
<path d="M534.31 229.6V244.3M532.51 236.7H536.11" stroke="#e0306a"/>
<path d="M537.82 229.6V240.5M536.02 229.6H539.62" stroke="#2b2b2b"/>
<path d="M541.33 221.4V240.5M539.53 224.3H543.13" stroke="#2b2b2b"/>
<path d="M544.85 226.5V242.6M543.05 240.3H546.65" stroke="#e0306a"/>
<path d="M548.36 221.4V253.4M546.56 250.2H550.16" stroke="#e0306a"/>
<path d="M551.87 246.0V261.0M550.07 251.1H553.67" stroke="#e0306a"/>
<path d="M555.38 249.4V259.7M553.58 251.8H557.18" stroke="#e0306a"/>
<path d="M558.90 245.0V257.6M557.10 245.0H560.70" stroke="#2b2b2b"/>
<path d="M562.41 232.1V247.7M560.61 232.7H564.21" stroke="#2b2b2b"/>
<path d="M565.92 231.1V246.4M564.12 235.8H567.72" stroke="#e0306a"/>
<path d="M569.43 221.9V238.8M567.63 224.4H571.23" stroke="#2b2b2b"/>
<path d="M572.95 209.9V231.4M571.15 216.9H574.75" stroke="#2b2b2b"/>
<path d="M576.46 212.0V225.6M574.66 222.1H578.26" stroke="#e0306a"/>
<path d="M579.97 214.0V227.3M578.17 223.5H581.77" stroke="#e0306a"/>
<path d="M583.48 226.0V239.9M581.68 236.1H585.28" stroke="#e0306a"/>
<path d="M587.00 227.3V241.6M585.20 227.3H588.80" stroke="#2b2b2b"/>
<path d="M590.51 223.2V249.4M588.71 249.1H592.31" stroke="#e0306a"/>
<path d="M594.02 237.1V251.5M592.22 242.5H595.82" stroke="#2b2b2b"/>
<path d="M597.53 228.4V243.3M595.73 236.0H599.33" stroke="#2b2b2b"/>
<path d="M601.05 220.0V238.5M599.25 220.0H602.85" stroke="#2b2b2b"/>
<path d="M604.56 217.2V225.5M602.76 220.5H606.36" stroke="#e0306a"/>
<path d="M608.07 214.3V224.6M606.27 216.8H609.87" stroke="#2b2b2b"/>
<path d="M611.58 213.2V219.6M609.78 217.3H613.38" stroke="#e0306a"/>
<path d="M615.10 213.2V227.5M613.30 213.2H616.90" stroke="#2b2b2b"/>
<path d="M618.61 211.2V227.6M616.81 216.9H620.41" stroke="#e0306a"/>
<path d="M622.12 215.3V221.7M620.32 218.3H623.92" stroke="#e0306a"/>
<path d="M625.63 208.6V220.5M623.83 210.7H627.43" stroke="#2b2b2b"/>
<path d="M629.14 209.2V220.8M627.34 209.2H630.94" stroke="#2b2b2b"/>
<path d="M632.66 200.5V213.6M630.86 200.7H634.46" stroke="#2b2b2b"/>
<path d="M636.17 196.7V203.2M634.37 198.9H637.97" stroke="#2b2b2b"/>
<path d="M639.68 183.4V198.5M637.88 187.0H641.48" stroke="#2b2b2b"/>
<path d="M643.19 188.2V194.7M641.39 193.6H644.99" stroke="#e0306a"/>
<path d="M646.71 182.4V196.4M644.91 182.7H648.51" stroke="#2b2b2b"/>
<path d="M650.22 182.1V189.6M648.42 188.1H652.02" stroke="#e0306a"/>
<path d="M653.73 174.7V189.4M651.93 177.0H655.53" stroke="#2b2b2b"/>
<path d="M657.24 169.2V177.1M655.44 173.8H659.04" stroke="#2b2b2b"/>
<path d="M660.76 166.2V175.4M658.96 169.1H662.56" stroke="#2b2b2b"/>
<path d="M664.27 167.5V180.5M662.47 179.8H666.07" stroke="#e0306a"/>
<path d="M667.78 174.7V183.6M665.98 181.3H669.58" stroke="#e0306a"/>
<path d="M671.29 178.1V195.3M669.49 191.3H673.09" stroke="#e0306a"/>
<path d="M674.81 181.9V192.6M673.01 187.4H676.61" stroke="#2b2b2b"/>
<path d="M678.32 173.3V187.3M676.52 175.9H680.12" stroke="#2b2b2b"/>
<path d="M681.83 176.1V184.6M680.03 182.0H683.63" stroke="#e0306a"/>
<path d="M685.34 176.1V183.6M683.54 182.7H687.14" stroke="#e0306a"/>
<path d="M688.86 181.2V197.3M687.06 196.6H690.66" stroke="#e0306a"/>
<path d="M692.37 194.6V206.2M690.57 200.1H694.17" stroke="#e0306a"/>
<path d="M695.88 196.3V208.2M694.08 197.9H697.68" stroke="#2b2b2b"/>
<path d="M699.39 189.8V201.1M697.59 195.8H701.19" stroke="#2b2b2b"/>
<path d="M702.91 189.1V207.6M701.11 207.1H704.71" stroke="#e0306a"/>
<path d="M706.42 203.5V220.8M704.62 219.1H708.22" stroke="#e0306a"/>
<path d="M709.93 192.2V217.1M708.13 192.5H711.73" stroke="#2b2b2b"/>
<path d="M713.44 186.4V193.9M711.64 186.4H715.24" stroke="#2b2b2b"/>
<path d="M716.95 176.1V189.1M715.15 176.1H718.75" stroke="#2b2b2b"/>
<path d="M720.47 170.8V176.7M718.67 171.4H722.27" stroke="#2b2b2b"/>
<path d="M723.98 167.3V173.5M722.18 167.8H725.78" stroke="#2b2b2b"/>
<path d="M727.49 166.7V172.9M725.69 166.8H729.29" stroke="#2b2b2b"/>
<path d="M731.00 154.4V168.2M729.20 155.3H732.80" stroke="#2b2b2b"/>
<path d="M734.52 149.5V157.7M732.72 151.8H736.32" stroke="#2b2b2b"/>
<path d="M738.03 148.0V152.4M736.23 150.3H739.83" stroke="#2b2b2b"/>
<path d="M741.54 151.3V159.7M739.74 157.5H743.34" stroke="#e0306a"/>
<path d="M745.05 147.3V157.7M743.25 148.9H746.85" stroke="#2b2b2b"/>
<path d="M748.57 143.5V155.9M746.77 143.5H750.37" stroke="#2b2b2b"/>
<path d="M752.08 136.7V143.6M750.28 138.6H753.88" stroke="#2b2b2b"/>
<path d="M755.59 130.6V143.6M753.79 132.1H757.39" stroke="#2b2b2b"/>
<path d="M759.10 125.1V136.4M757.30 125.8H760.90" stroke="#2b2b2b"/>
<path d="M762.62 124.4V136.4M760.82 127.7H764.42" stroke="#e0306a"/>
<path d="M766.13 117.9V133.3M764.33 120.0H767.93" stroke="#2b2b2b"/>
<path d="M769.64 115.5V122.7M767.84 115.6H771.44" stroke="#2b2b2b"/>
<path d="M773.15 110.7V123.0M771.35 116.8H774.95" stroke="#e0306a"/>
<path d="M776.67 111.4V120.3M774.87 117.4H778.47" stroke="#e0306a"/>
<path d="M780.18 104.2V116.9M778.38 106.8H781.98" stroke="#2b2b2b"/>
<path d="M783.69 104.9V109.4M781.89 105.0H785.49" stroke="#2b2b2b"/>
<path d="M787.20 103.9V115.5M785.40 109.5H789.00" stroke="#e0306a"/>
<path d="M790.72 108.0V118.2M788.92 116.8H792.52" stroke="#e0306a"/>
<path d="M794.23 113.1V132.6M792.43 131.3H796.03" stroke="#e0306a"/>
<path d="M797.74 118.6V131.5M795.94 119.0H799.54" stroke="#2b2b2b"/>
<path d="M801.25 115.8V127.1M799.45 116.4H803.05" stroke="#2b2b2b"/>
<path d="M804.76 107.0V115.5M802.96 107.9H806.56" stroke="#2b2b2b"/>
<path d="M808.28 98.8V108.7M806.48 100.7H810.08" stroke="#2b2b2b"/>
<path d="M811.79 97.1V105.6M809.99 100.6H813.59" stroke="#2b2b2b"/>
<path d="M815.30 99.4V111.1M813.50 103.0H817.10" stroke="#e0306a"/>
<path d="M818.81 95.7V107.6M817.01 96.9H820.61" stroke="#2b2b2b"/>
<path d="M822.33 88.7V98.8M820.53 89.5H824.13" stroke="#2b2b2b"/>
<path d="M825.84 83.6V90.4M824.04 86.7H827.64" stroke="#2b2b2b"/>
<path d="M829.35 81.9V88.4M827.55 87.0H831.15" stroke="#e0306a"/>
<path d="M832.86 78.0V88.4M831.06 78.0H834.66" stroke="#2b2b2b"/>
<path d="M836.38 70.6V78.5M834.58 74.0H838.18" stroke="#2b2b2b"/>
<path d="M839.89 68.9V83.9M838.09 83.2H841.69" stroke="#e0306a"/>
<path d="M843.40 76.4V93.3M841.60 87.2H845.20" stroke="#e0306a"/>
<path d="M846.91 78.1V101.2M845.11 96.9H848.71" stroke="#e0306a"/>
<path d="M850.43 95.2V117.4M848.63 97.1H852.23" stroke="#e0306a"/>
<path d="M853.94 79.1V98.8M852.14 79.1H855.74" stroke="#2b2b2b"/>
<path d="M857.45 72.4V79.5M855.65 72.4H859.25" stroke="#2b2b2b"/>
<path d="M860.96 71.2V78.5M859.16 71.2H862.76" stroke="#2b2b2b"/>
<path d="M864.48 73.3V92.5M862.68 91.5H866.28" stroke="#e0306a"/>
<path d="M867.99 72.3V91.8M866.19 73.1H869.79" stroke="#2b2b2b"/>
<path d="M871.50 64.4V72.6M869.70 66.8H873.30" stroke="#2b2b2b"/>
<path d="M875.01 61.4V67.2M873.21 63.8H876.81" stroke="#2b2b2b"/>
<path d="M878.53 61.7V69.2M876.73 62.8H880.33" stroke="#2b2b2b"/>
<path d="M882.04 57.5V68.0M880.24 57.6H883.84" stroke="#2b2b2b"/>
<path d="M885.55 52.6V58.9M883.75 53.6H887.35" stroke="#2b2b2b"/>
<path d="M889.06 53.4V62.6M887.26 58.2H890.86" stroke="#e0306a"/>
<path d="M892.57 55.1V67.6M890.77 64.6H894.37" stroke="#e0306a"/>
<path d="M896.09 43.0V67.0M894.29 43.3H897.89" stroke="#2b2b2b"/>
<path d="M899.60 41.6V54.3M897.80 53.2H901.40" stroke="#e0306a"/>
<path d="M903.11 45.4V54.6M901.31 45.4H904.91" stroke="#2b2b2b"/>
<path d="M906.62 39.9V46.1M904.82 40.5H908.42" stroke="#2b2b2b"/>
<path d="M910.14 35.8V40.3M908.34 36.0H911.94" stroke="#2b2b2b"/>
<path d="M913.65 36.2V41.3M911.85 39.0H915.45" stroke="#e0306a"/>
<path d="M917.16 36.8V56.7M915.36 48.4H918.96" stroke="#e0306a"/>
<path d="M920.67 38.9V50.8M918.87 45.3H922.47" stroke="#2b2b2b"/>
<path d="M924.19 47.4V56.3M922.39 47.5H925.99" stroke="#e0306a"/>
<path d="M927.70 41.6V58.7M925.90 56.7H929.50" stroke="#e0306a"/>
<path d="M931.21 43.0V60.1M929.41 43.2H933.01" stroke="#2b2b2b"/>
<path d="M934.72 33.1V42.6M932.92 35.1H936.52" stroke="#2b2b2b"/>
<path d="M938.24 33.8V46.4M936.44 39.8H940.04" stroke="#e0306a"/>
<path d="M941.75 35.1V48.8M939.95 41.0H943.55" stroke="#e0306a"/>
<path d="M945.26 33.5V43.5M943.46 34.1H947.06" stroke="#2b2b2b"/>
<path d="M948.77 31.7V42.0M946.97 41.9H950.57" stroke="#e0306a"/>
<path d="M952.29 39.4V55.5M950.49 46.5H954.09" stroke="#e0306a"/>
<path d="M955.80 43.9V70.3M954.00 61.2H957.60" stroke="#e0306a"/>
<path d="M959.31 66.2V83.7M957.51 72.0H961.11" stroke="#e0306a"/>
<path d="M962.82 65.6V75.5M961.02 69.6H964.62" stroke="#2b2b2b"/>
<path d="M966.34 60.0V77.6M964.54 76.8H968.14" stroke="#e0306a"/>
<path d="M969.85 67.0V121.6M968.05 121.4H971.65" stroke="#e0306a"/>
<path d="M973.36 85.2V144.2M971.56 95.4H975.16" stroke="#2b2b2b"/>
<path d="M976.87 87.2V107.9M975.07 102.5H978.67" stroke="#e0306a"/>
<path d="M980.38 81.5V119.5M978.58 81.5H982.18" stroke="#2b2b2b"/>
<path d="M983.90 67.3V89.6M982.10 68.1H985.70" stroke="#2b2b2b"/>
<path d="M987.41 65.6V77.3M985.61 70.3H989.21" stroke="#e0306a"/>
<path d="M990.92 46.2V60.5M989.12 46.2H992.72" stroke="#2b2b2b"/>
<path d="M994.43 45.3V61.7M992.63 58.6H996.23" stroke="#e0306a"/>
<path d="M997.95 47.3V55.5M996.15 49.9H999.75" stroke="#2b2b2b"/>
<path d="M1001.46 41.8V53.8M999.66 42.9H1003.26" stroke="#2b2b2b"/>
<path d="M1004.97 40.2V46.4M1003.17 44.8H1006.77" stroke="#e0306a"/>
<path d="M1008.48 39.6V46.7M1006.68 45.5H1010.28" stroke="#e0306a"/>
<path d="M1012.00 28.5V47.5M1010.20 29.7H1013.80" stroke="#2b2b2b"/>
<path d="M1015.51 26.5V29.5M1013.71 27.3H1017.31" stroke="#2b2b2b"/>
</g>
<!-- trend lines -->
<path d="M7.3 272L1022 40.5" stroke="#184010" stroke-width="2.3" stroke-dasharray="22.5 1.45" />
<path d="M7.3 393.1L1021 158.6" stroke="#184010" stroke-width="2.3" stroke-dasharray="22.5 1.45" />
<!-- channel -->
<path d="M288.2 163L517 270.8" stroke="#ff3a3a" stroke-width="1.05" stroke-dasharray="6.2 1.7"/>
<path d="M373.2 147.6L595 252" stroke="#ff3a3a" stroke-width="1.05" stroke-dasharray="6.2 1.7"/>
<path d="M519 267.5L524.5 275H514.7z" fill="#ff0000"/>
<path d="M596.8 248.3L602 256H592.3z" fill="#ff0000"/>
<path d="M1021.6 28L1022.8 23.2H1025V33.4H1022.8z" fill="#222"/>
<ellipse cx="1011.9" cy="31.7" rx="9.45" ry="8.2" fill="none" stroke="#ff8c1a" stroke-width="2.5"/>
<path d="M1019.6 62.7L1021.6 59.3H1025.5V66.2H1021.6z" fill="#fff" stroke="#4a4ab0" stroke-width="1.2"/>
<!-- labels -->
<text x="277.8" y="124.6" font-size="20" fill="#f5141e" textLength="71" lengthAdjust="spacingAndGlyphs">Channel</text>
<text x="277.6" y="147" font-size="20" fill="#f5141e" textLength="88.4" lengthAdjust="spacingAndGlyphs">Correction</text>
<text x="618.8" y="105" font-size="20.3" fill="#22551c" textLength="95" lengthAdjust="spacingAndGlyphs">Resistance</text>
<text x="537.2" y="287.4" font-size="19.4" fill="#1f4a17" textLength="66.8" lengthAdjust="spacingAndGlyphs">Support</text>
<text x="45.3" y="305.9" font-size="22.4" font-weight="bold" fill="#1c4714" textLength="69.2" lengthAdjust="spacingAndGlyphs">Rising</text>
<text x="46.2" y="332.2" font-size="22.4" font-weight="bold" fill="#1c4714" textLength="61.8" lengthAdjust="spacingAndGlyphs">Trend</text>
</svg>
</body></html>
